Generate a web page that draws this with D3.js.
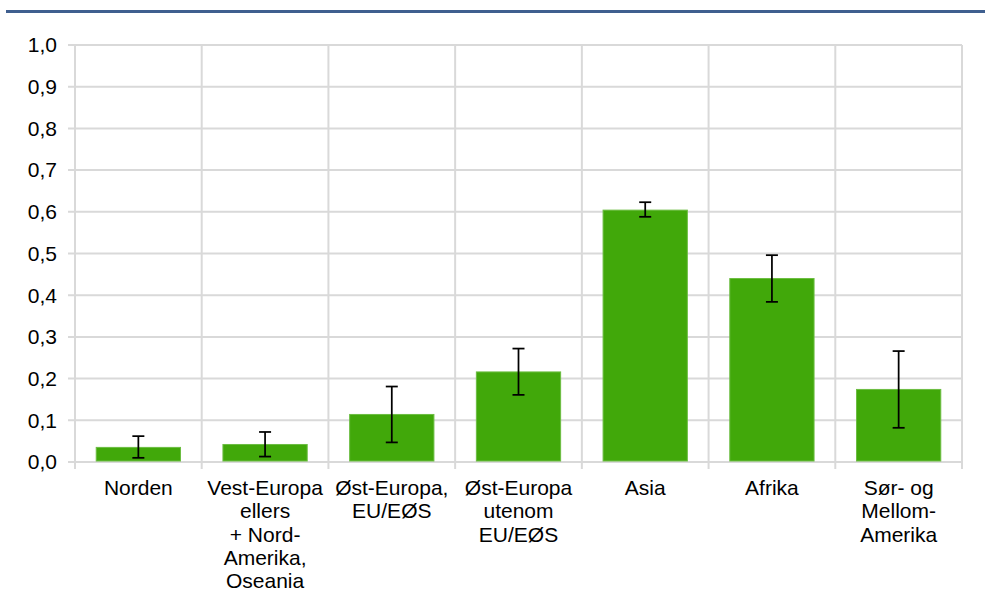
<html>
<head>
<script src="https://d3js.org/d3.v7.min.js"></script>
<style>
  body { margin: 0; background: #fff; }
  text { font-family: "Liberation Sans", Arial, sans-serif; }
</style>
</head>
<body>
<div id="chart"></div>
<script>
// category labels (line breaks as in the original)
const categories = [
  "Norden",
  "Vest-Europa\nellers\n+ Nord-\nAmerika,\nOseania",
  "Øst-Europa,\nEU/EØS",
  "Øst-Europa\nutenom\nEU/EØS",
  "Asia",
  "Afrika",
  "Sør- og\nMellom-\nAmerika"
];
const values = [0.035, 0.042, 0.114, 0.216, 0.604, 0.440, 0.174];
const errLow = [0.010, 0.013, 0.047, 0.161, 0.588, 0.384, 0.082];
const errHigh = [0.062, 0.072, 0.181, 0.272, 0.623, 0.496, 0.266];
const yTicks = [0, 0.1, 0.2, 0.3, 0.4, 0.5, 0.6, 0.7, 0.8, 0.9, 1.0];

const W = 985, H = 594;
const margin = { top: 45, right: 23, bottom: 132, left: 75 };
const width = W - margin.left - margin.right,
      height = H - margin.top - margin.bottom;

const svg = d3.select("#chart").append("svg")
  .attr("width", W).attr("height", H);

// header rule
svg.append("rect")
  .attr("x", 6).attr("y", 10).attr("width", W - 6).attr("height", 3)
  .attr("fill", "#3f5f8f");

const g = svg.append("g")
  .attr("transform", "translate(" + margin.left + "," + margin.top + ")");

const x = d3.scaleBand().domain(categories).range([0, width]).padding(0);
const y = d3.scaleLinear().domain([0, 1]).range([height, 0]);

const grid = "#d9d9d9";

// horizontal gridlines + y ticks
g.selectAll(".hgrid").data(yTicks).enter().append("line")
  .attr("x1", -7).attr("x2", width)
  .attr("y1", d => y(d)).attr("y2", d => y(d))
  .attr("stroke", grid).attr("stroke-width", 2);

// vertical gridlines at category boundaries + x ticks
const bounds = categories.map(c => x(c)).concat([width]);
g.selectAll(".vgrid").data(bounds).enter().append("line")
  .attr("x1", d => d).attr("x2", d => d)
  .attr("y1", 0).attr("y2", height + 7)
  .attr("stroke", grid).attr("stroke-width", 2);

// y labels
g.selectAll(".ylab").data(yTicks).enter().append("text")
  .attr("x", -18).attr("y", d => y(d)).attr("dy", "0.35em")
  .attr("text-anchor", "end").attr("font-size", 21).attr("fill", "#000")
  .text(d => d3.format(".1f")(d).replace(".", ","));

// bars
const barW = x.bandwidth() * 0.665;
g.selectAll(".bar").data(values).enter().append("rect")
  .attr("x", (d, i) => x(categories[i]) + (x.bandwidth() - barW) / 2)
  .attr("y", d => y(d))
  .attr("width", barW)
  .attr("height", d => y(0) - y(d) - 1)
  .attr("fill", "#41a80a")
  .attr("stroke", "#6cbd42").attr("stroke-width", 1);

// error bars
const cx = i => x(categories[i]) + x.bandwidth() / 2;
const eb = g.selectAll(".err").data(values).enter().append("g");
eb.append("line")
  .attr("x1", (d, i) => cx(i)).attr("x2", (d, i) => cx(i))
  .attr("y1", (d, i) => y(errLow[i])).attr("y2", (d, i) => y(errHigh[i]))
  .attr("stroke", "#000").attr("stroke-width", 1.75);
[errLow, errHigh].forEach(arr => {
  eb.append("line")
    .attr("x1", (d, i) => cx(i) - 6).attr("x2", (d, i) => cx(i) + 6)
    .attr("y1", (d, i) => y(arr[i])).attr("y2", (d, i) => y(arr[i]))
    .attr("stroke", "#000").attr("stroke-width", 1.75);
});

// category labels
const lab = g.selectAll(".xlab").data(categories).enter().append("text")
  .attr("text-anchor", "middle").attr("font-size", 21).attr("fill", "#000")
  .attr("transform", d => "translate(" + (x(d) + x.bandwidth() / 2) + "," + (height + 33) + ")");
lab.selectAll("tspan").data(d => d.split("\n")).enter().append("tspan")
  .attr("x", 0).attr("y", (d, i) => i * 23.3)
  .text(d => d);
</script>
</body>
</html>
